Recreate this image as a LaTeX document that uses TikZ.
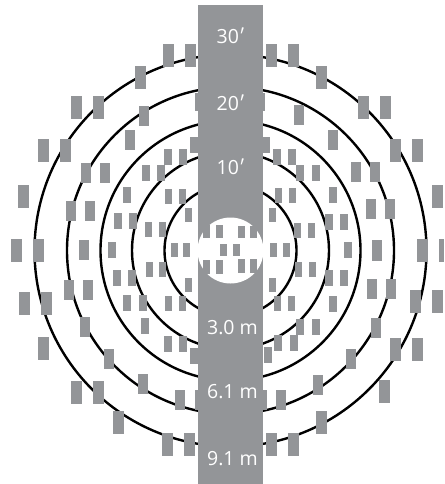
\documentclass[tikz,border=0pt]{standalone}
\usepackage{fontspec}
\setmainfont{Open Sans}
\newfontfamily\primefont{Lato}
\newcommand{\ftmark}{{\primefont ′}}
\definecolor{seatgrey}{HTML}{939598}
\tikzset{
  ring/.style={draw=black,line width=2.4pt,fill=none},
  seat/.style={fill=seatgrey,draw=none},
  dist/.style={text=white,font=\fontsize{19.5}{22}\selectfont,inner sep=0pt,anchor=center}
}
\begin{document}
\begin{tikzpicture}[x=1pt,y=-1pt]
\useasboundingbox (0,0) rectangle (444,484);
\coordinate (c) at (230.5,250.5);
\foreach \r in {66,98.5,130,163.5,196}{\draw[ring] (c) circle[radius=\r pt];}
\fill[seatgrey] (198,5) rectangle (263,484);
\fill[white] (c) circle[radius=33pt];
\foreach \xa/\ya/\xb/\yb in {
 163/44/174/67,185/44/196/67,135/66/146/89,71/96/82/119,93/96/104/119,38/139/49/162,60/139/71/162,
 18/185/29/208,11/239/22/262,33/239/44/262,19/292/30/315,41/292/52/315,38/337/49/360,71/381/82/404,
 93/381/104/404,113/411/124/434,162/433/173/456,184/433/195/456,
 266/44/277/67,288/44/299/67,316/66/327/89,358/96/369/119,380/96/391/119,390/139/401/162,412/139/423/162,
 432/185/443/208,417/239/428/262,439/239/444/262,410/290/421/313,432/290/443/313,390/338/401/361,412/338/423/361,
 379/380/390/403,316/411/327/434,266/433/277/456,288/433/299/456,
 195/93/205/111,255/93/265/111,139/106/149/126,125/130/135/150,81/163/91/183,100/163/110/183,
 66/201/76/221,85/201/95/221,79/240/89/260,64/280/74/300,83/280/93/300,80/317/90/337,104/349/114/369,
 138/374/148/394,175/390/185/410,195/390/205/410,
 294/105/304/125,328/130/338/150,351/162/361/182,370/162/380/182,366/199/376/219,385/199/395/219,
 372/240/382/261,367/279/377/299,386/279/396/299,371/318/381/338,346/349/356/369,313/375/323/395,
 257/390/267/410,276/390/286/410,
 190/137/198/153,262/137/270/153,108/242/116/258,123/187/131/203,114/213/122/229,129/213/137/229,
 142/165/150/181,157/165/165/181,164/149/172/165,179/149/187/165,113/270/121/286,128/270/136/286,
 123/295/131/311,139/295/147/311,141/318/149/334,164/336/172/352,179/336/187/352,190/348/198/364,
 273/149/281/165,288/149/296/165,296/165/304/181,312/165/320/181,329/187/337/203,325/214/333/230,340/214/348/230,
 344/242/352/258,325/270/333/286,340/270/348/286,329/296/337/312,296/319/304/335,312/319/320/335,
 274/335/282/351,290/335/298/351,264/347/272/363,
 165/189/172/204,179/189/186/204,185/208/192/222,145/222/152/237,159/222/166/237,171/243/178/257,183/243/190/257,
 146/262/153/277,159/262/166/277,185/278/192/292,165/296/172/311,179/296/186/311,
 275/188/282/203,289/188/296/203,269/208/276/222,294/223/301/238,308/223/315/238,270/243/277/257,283/243/290/257,
 295/262/302/277,309/262/316/277,269/278/276/292,274/296/281/311,288/296/295/311,
 203/225/210/238,216/225/223/238,238/226/245/238,250/226/257/238,220/244/227/256,233/244/240/256,
 203/260/210/274,216/260/223/274,238/259/245/273,250/259/257/273}{
  \fill[seat] (\xa,\ya) rectangle (\xb,\yb);
}
\node[dist] (t30) at (231,36) {30\ftmark};
\node[dist] (t20) at (231,103) {20\ftmark};
\node[dist] (t10) at (231,167) {10\ftmark};
\node[dist] (m3) at (232.5,328) {3.0 m};
\node[dist] (m6) at (232.5,392) {6.1 m};
\node[dist] (m9) at (232.5,459) {9.1 m};
\end{tikzpicture}
\end{document}
